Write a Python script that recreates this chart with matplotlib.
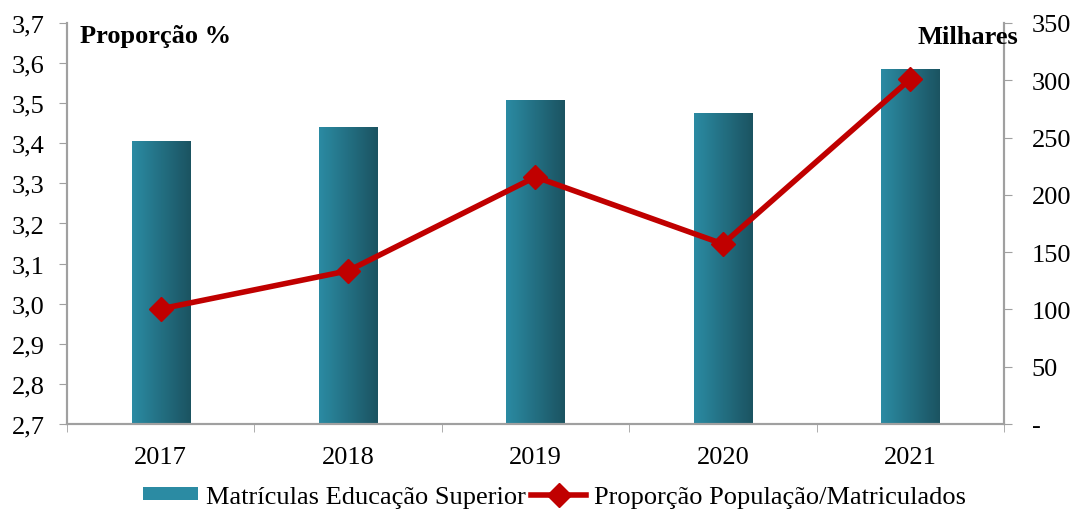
import numpy as np
from matplotlib import pyplot
from matplotlib.colors import LinearSegmentedColormap
from matplotlib.lines import Line2D
from matplotlib.patches import Patch

YEARS = ['2017', '2018', '2019', '2020', '2021']
MATRICULAS = [247, 259, 283, 271, 310]          # milhares (eixo direito)
PROPORCAO = [2.987, 3.082, 3.316, 3.149, 3.560]  # % (eixo esquerdo)
LEFT_TICKS = [2.7, 2.8, 2.9, 3.0, 3.1, 3.2, 3.3, 3.4, 3.5, 3.6, 3.7]
RIGHT_TICKS = [0, 50, 100, 150, 200, 250, 300, 350]

BAR_LEFT = '#2b8ba3'
BAR_RIGHT = '#1b5361'
LINE_COLOR = '#c00000'
SPINE_COLOR = '#a0a0a0'

pyplot.rcParams['font.family'] = ['Liberation Serif', 'DejaVu Serif']
pyplot.rcParams['font.size'] = 19


def main():
  fig = pyplot.figure(figsize=(10.77, 5.10), dpi=100)
  ax = fig.add_axes([0.0622, 0.1667, 0.870, 0.7863])
  ax2 = ax.twinx()

  x = np.arange(len(YEARS))
  bars = ax2.bar(x, MATRICULAS, width=0.31, color=BAR_LEFT, zorder=1)
  cmap = LinearSegmentedColormap.from_list('bar', [BAR_LEFT, BAR_RIGHT])
  grad = np.linspace(0, 1, 256).reshape(1, -1)
  for bar in bars:
    x0, y0 = bar.get_x(), bar.get_y()
    w, h = bar.get_width(), bar.get_height()
    img = ax2.imshow(grad, cmap=cmap, aspect='auto',
                     extent=(x0, x0 + w, y0, y0 + h), zorder=1)
    img.set_clip_path(bar)
  ax2.set_xlim(-0.5, len(YEARS) - 0.5)
  ax2.set_ylim(0, 350)
  ax2.set_yticks(RIGHT_TICKS)
  ax2.set_yticklabels(['-'] + [str(t) for t in RIGHT_TICKS[1:]])

  # line above the bars
  ax.set_zorder(ax2.get_zorder() + 1)
  ax.patch.set_visible(False)
  ax.plot(x, PROPORCAO, color=LINE_COLOR, lw=4, marker='D',
          markersize=12.5, solid_joinstyle='round', zorder=3)
  ax.set_ylim(2.7, 3.7)
  ax.set_yticks(LEFT_TICKS)
  ax.set_yticklabels([('%.1f' % t).replace('.', ',') for t in LEFT_TICKS])
  ax.set_xlim(-0.5, len(YEARS) - 0.5)
  ax.set_xticks(x)
  ax.set_xticklabels(YEARS)
  ax.set_xticks(np.arange(-0.5, len(YEARS)), minor=True)
  ax.tick_params(axis='x', which='major', length=0, pad=16)
  ax.tick_params(axis='x', which='minor', length=6, color=SPINE_COLOR,
                 direction='out')
  ax.tick_params(axis='y', length=6, color=SPINE_COLOR, pad=10)
  ax2.tick_params(axis='y', length=6, color=SPINE_COLOR, pad=14)

  for a in (ax, ax2):
    a.spines['top'].set_visible(False)
    for s in ('left', 'right', 'bottom'):
      a.spines[s].set_color(SPINE_COLOR)
      a.spines[s].set_linewidth(1.5)

  fig.text(80 / 1077, 1 - 37 / 510, 'Proporção %', fontweight='bold',
           ha='left', va='center')
  fig.text(1018 / 1077, 1 - 37 / 510, 'Milhares', fontweight='bold',
           ha='right', va='center')

  handles = [
      Patch(facecolor=BAR_LEFT, edgecolor='none'),
      Line2D([], [], color=LINE_COLOR, lw=4, marker='D', markersize=12.5),
  ]
  fig.legend(handles, ['Matrículas Educação Superior',
                       'Proporção População/Matriculados'],
             loc='center', bbox_to_anchor=(0.5 + 16 / 1077, 1 - 498 / 510),
             ncol=2, frameon=False, handlelength=2.1, handleheight=0.4,
             columnspacing=0.2, handletextpad=0.3)
  fig.savefig('out.png', dpi=100)


if __name__ == '__main__':
  main()
